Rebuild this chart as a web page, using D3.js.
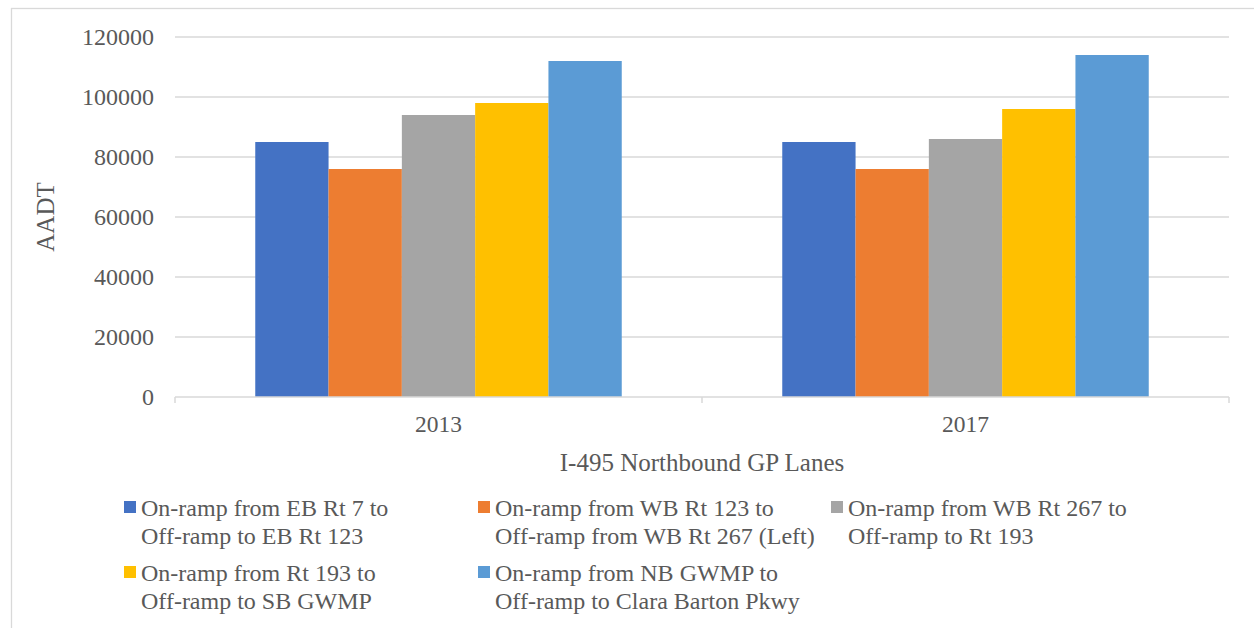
<!DOCTYPE html>
<html>
<head>
<meta charset="utf-8">
<script src="https://cdn.jsdelivr.net/npm/d3@7"></script>
<style>
  html, body { margin: 0; padding: 0; background: #fff; }
  svg { display: block; font-family: "Liberation Serif", "Times New Roman", serif; }
</style>
</head>
<body>
<svg id="chart" width="1254" height="628"></svg>
<script>
// AADT on I-495 northbound GP lanes, by segment and year
const years = ["2013", "2017"];
const segments = [
  ["On-ramp from EB Rt 7 to", "Off-ramp to EB Rt 123"],
  ["On-ramp from WB Rt 123 to", "Off-ramp from WB Rt 267 (Left)"],
  ["On-ramp from WB Rt 267 to", "Off-ramp to Rt 193"],
  ["On-ramp from Rt 193 to", "Off-ramp to SB GWMP"],
  ["On-ramp from NB GWMP to", "Off-ramp to Clara Barton Pkwy"]
];
const values2013 = [85000, 76000, 94000, 98000, 112000];
const values2017 = [85000, 76000, 86000, 96000, 114000];
const yTicks = [0, 20000, 40000, 60000, 80000, 100000, 120000];
const colors = ["#4472C4", "#ED7D31", "#A5A5A5", "#FFC000", "#5B9BD5"];

const valuesByYear = { "2013": values2013, "2017": values2017 };

const svg = d3.select("#chart");
const plot = { left: 175, right: 1229, top: 37, bottom: 397 };
const textColor = "#595959";
const lineColor = "#d9d9d9";

// outer chart frame
svg.append("rect")
  .attr("x", 11.5).attr("y", 8.5)
  .attr("width", 1260).attr("height", 640)
  .attr("fill", "none").attr("stroke", lineColor).attr("stroke-width", 1.3);

const y = d3.scaleLinear().domain([0, 120000]).range([plot.bottom, plot.top]);
const x0 = d3.scaleBand().domain(years).range([plot.left, plot.right]).padding(0);
const x1 = d3.scaleBand().domain(d3.range(segments.length))
  .range([0, x0.bandwidth()]).paddingInner(0).paddingOuter(1.095);

// gridlines
svg.append("g").selectAll("line")
  .data(yTicks.filter(d => d > 0))
  .join("line")
  .attr("x1", plot.left).attr("x2", plot.right)
  .attr("y1", d => y(d)).attr("y2", d => y(d))
  .attr("stroke", lineColor).attr("stroke-width", 1.5);

// y tick labels
const yAxis = svg.append("g")
  .attr("transform", `translate(${plot.left},0)`)
  .call(d3.axisLeft(y).tickValues(yTicks).tickSize(0).tickPadding(21).tickFormat(d3.format("d")));
yAxis.select(".domain").remove();
yAxis.selectAll("text")
  .attr("fill", textColor)
  .style("font-size", "24px")
  .style("font-family", "Liberation Serif, serif");

// bars
const groups = svg.append("g").selectAll("g")
  .data(years)
  .join("g")
  .attr("transform", d => `translate(${x0(d)},0)`);
groups.selectAll("rect")
  .data(yr => valuesByYear[yr].map((v, i) => ({ v, i })))
  .join("rect")
  .attr("x", d => x1(d.i))
  .attr("width", x1.bandwidth())
  .attr("y", d => y(d.v))
  .attr("height", d => y(0) - y(d.v))
  .attr("fill", d => colors[d.i]);

// x axis line with boundary ticks
const xAxis = svg.append("g").attr("transform", `translate(0,${plot.bottom})`);
xAxis.append("line")
  .attr("x1", plot.left).attr("x2", plot.right)
  .attr("stroke", lineColor).attr("stroke-width", 1.5);
const boundaries = [plot.left, ...years.map(d => x0(d) + x0.bandwidth())];
xAxis.selectAll(".tk")
  .data(boundaries)
  .join("line")
  .attr("class", "tk")
  .attr("x1", d => d).attr("x2", d => d)
  .attr("y1", 0).attr("y2", 6)
  .attr("stroke", lineColor).attr("stroke-width", 1.5);
xAxis.selectAll("text")
  .data(years)
  .join("text")
  .attr("x", d => x0(d) + x0.bandwidth() / 2)
  .attr("y", 35)
  .attr("text-anchor", "middle")
  .attr("fill", textColor)
  .style("font-size", "23.5px")
  .text(d => d);

// axis titles
svg.append("text")
  .attr("x", (plot.left + plot.right) / 2)
  .attr("y", 471)
  .attr("text-anchor", "middle")
  .attr("fill", textColor)
  .style("font-size", "25px")
  .text("I-495 Northbound GP Lanes");
svg.append("text")
  .attr("transform", `translate(54,${(plot.top + plot.bottom) / 2}) rotate(-90)`)
  .attr("text-anchor", "middle")
  .attr("fill", textColor)
  .style("font-size", "25px")
  .text("AADT");

// legend
const legendCols = [124, 478, 831];
const legendRows = [501, 566];
const legend = svg.append("g").selectAll("g")
  .data(segments)
  .join("g")
  .attr("transform", (d, i) => `translate(${legendCols[i % 3]},${legendRows[Math.floor(i / 3)]})`);
legend.append("rect")
  .attr("width", 12).attr("height", 12)
  .attr("fill", (d, i) => colors[i]);
legend.append("text")
  .attr("fill", textColor)
  .style("font-size", "24px")
  .selectAll("tspan")
  .data(d => d)
  .join("tspan")
  .attr("x", 17)
  .attr("y", (d, j) => 14.5 + j * 28)
  .text(d => d);
</script>
</body>
</html>
